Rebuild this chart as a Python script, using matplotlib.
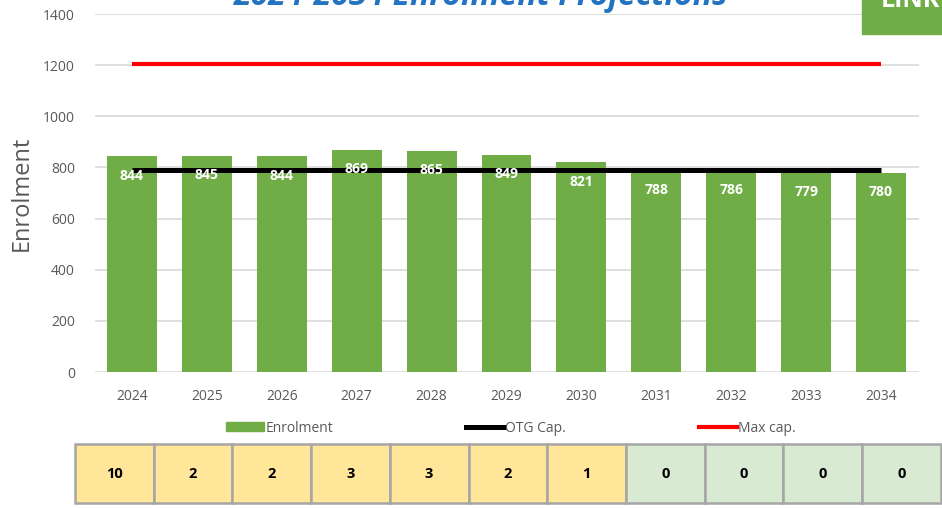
import numpy as np
import matplotlib
matplotlib.use('Agg')
import matplotlib.pyplot as plt
from matplotlib.patches import Rectangle
from matplotlib.lines import Line2D

# ----------------------------------------------------------------------
# data
# ----------------------------------------------------------------------
years = ['2024', '2025', '2026', '2027', '2028', '2029', '2030',
         '2031', '2032', '2033', '2034']
enrolment = [844, 845, 844, 869, 865, 849, 821, 788, 786, 779, 780]
otg_cap = [790] * len(years)
max_cap = [1205] * len(years)
table_vals = ['10', '2', '2', '3', '3', '2', '1', '0', '0', '0', '0']
table_colors = ['#FFE699'] * 7 + ['#D9EAD3'] * 4

GREEN = '#70AD47'
GREY_TXT = '#595959'

plt.rcParams['font.family'] = ['Open Sans', 'DejaVu Sans']

W, H = 942, 508
fig = plt.figure(figsize=(W / 100, H / 100), dpi=100)

# ----------------------------------------------------------------------
# main chart
# ----------------------------------------------------------------------
ax = fig.add_axes([94.5 / W, 1 - 372 / H, 824 / W, 358 / H])
x = np.arange(len(years))
bars = ax.bar(x, enrolment, width=0.667, color=GREEN, zorder=2)
ax.plot(x, otg_cap, color='black', lw=3.6, zorder=3, solid_capstyle='butt')
ax.plot(x, max_cap, color='#FF0000', lw=3.0, zorder=3, solid_capstyle='butt')

for xi, v in zip(x, enrolment):
    ax.annotate(str(v), (xi, v), xytext=(0, -14), textcoords='offset points',
                ha='center', va='center', color='white', fontsize=10,
                fontweight='bold', zorder=4)

ax.set_xlim(-0.5, len(years) - 0.5)
ax.set_ylim(0, 1400)
ax.set_yticks(range(0, 1401, 200))
ax.set_xticks(x)
ax.set_xticklabels(years)
ax.tick_params(length=0, labelsize=10, labelcolor=GREY_TXT)
ax.tick_params(axis='y', pad=14)
ax.tick_params(axis='x', pad=12)
ax.grid(axis='y', color='#D9D9D9', lw=1.2, zorder=0)
ax.set_axisbelow(True)
for s in ax.spines.values():
    s.set_visible(False)
ax.set_ylabel('Enrolment', fontsize=17, color=GREY_TXT)
ax.yaxis.set_label_coords(-0.074, 0.5)

# legend
handles = [Rectangle((0, 0), 1, 1, color=GREEN),
           Line2D([], [], color='black', lw=3.6),
           Line2D([], [], color='#FF0000', lw=3.0)]
fig.legend(handles, ['Enrolment', 'OTG Cap.', 'Max cap.'], loc='center',
           bbox_to_anchor=(511 / W, 1 - 428 / H), ncol=3, frameon=False,
           fontsize=10, handlelength=2.7, handleheight=0.6, handletextpad=0.1,
           columnspacing=9.6, labelcolor=GREY_TXT)

# title (clipped at top edge, as in the source) and LINK box
fig.text(481 / W, 1 - 5 / H, '2024-2034 Enrolment Projections', ha='center',
         va='baseline', fontsize=23, fontweight='bold', style='italic',
         color='#2473C2')
fig.patches.append(Rectangle((862 / W, 1 - 34 / H), 80 / W, 34 / H,
                             transform=fig.transFigure, color=GREEN))
fig.text(881 / W, 1 - 7 / H, 'LINK', ha='left', va='baseline', fontsize=18,
         fontweight='bold', color='white')

# ----------------------------------------------------------------------
# table strip below chart
# ----------------------------------------------------------------------
cell_w = 78.7
tax = fig.add_axes([75 / W, 5 / H, cell_w * len(table_vals) / W, 59 / H])
tax.set_xlim(0, len(table_vals))
tax.set_ylim(0, 1)
tax.axis('off')
for i, (val, col) in enumerate(zip(table_vals, table_colors)):
    tax.add_patch(Rectangle((i, 0), 1, 1, facecolor=col, edgecolor='#A6A6A6',
                            lw=1.8, clip_on=False))
    tax.text(i + 0.5, 0.5, val, ha='center', va='center', fontsize=10.5,
             fontweight='bold', color='black')

fig.savefig('out.png', dpi=100)
